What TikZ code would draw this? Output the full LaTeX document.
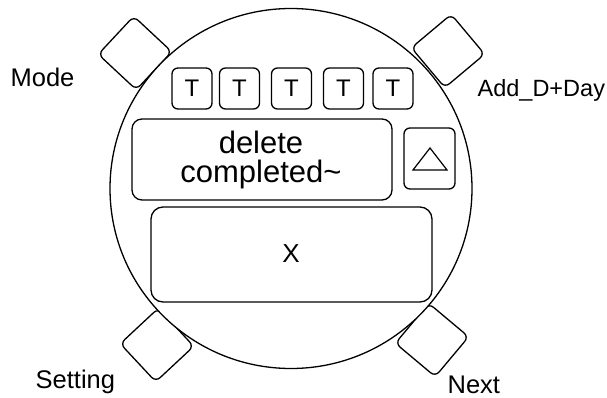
\documentclass[tikz,border=0pt]{standalone}
\usepackage{fontspec}
\setmainfont{Liberation Sans}
\begin{document}
\begin{tikzpicture}[x=1pt,y=-1pt,
  line width=1.3pt,
  knob/.style={draw, rectangle, rounded corners=6pt, minimum width=52pt, minimum height=52pt, inner sep=0pt},
  tkey/.style={draw, rectangle, rounded corners=6pt, minimum width=40pt, minimum height=41pt, inner sep=0pt, font=\fontsize{24}{28}\selectfont},
  panel/.style={draw, rounded corners=11pt},
  lbl/.style={anchor=base west, inner sep=0pt, font=\fontsize{25.5}{28}\selectfont}
]
\useasboundingbox (0,0) rectangle (607,398);

% side buttons, partly hidden behind the watch face
\node[knob, rotate=47] (bmode) at (135,53) {};
\node[knob, rotate=-50] (badd) at (448,51) {};
\node[knob, rotate=-47] (bset) at (157,345) {};
\node[knob, rotate=50] (bnext) at (432,340) {};

% watch face
\draw[fill=white] (291,188.5) ellipse [x radius=181, y radius=180];

% button labels
\node[lbl] (lmode) at (10,87) {Mode};
\node[lbl, font=\fontsize{23.5}{28}\selectfont] (ladd) at (477,97) {Add\_D+Day};
\node[lbl] (lset) at (35,388) {Setting};
\node[lbl] (lnext) at (447,393) {Next};

% row of T keys
\node[tkey] (t1) at (192,88.5) {T};
\node[tkey] (t2) at (239.5,88.5) {T};
\node[tkey] (t3) at (291.5,88.5) {T};
\node[tkey] (t4) at (343.5,88.5) {T};
\node[tkey] (t5) at (393,88.5) {T};

% message display
\draw[panel, rounded corners=10pt] (132,119) rectangle (392,200);
\node[align=center, font=\fontsize{31}{29}\selectfont, inner sep=0pt] (msg) at (261,160) {delete\\completed\textasciitilde};

% up arrow key
\draw[rounded corners=6pt] (404,128) rectangle (455,189);
\draw[line width=1.2pt] (430,148) -- (413,170) -- (447,170) -- cycle;

% value display
\draw[panel, rounded corners=12pt] (151,207) rectangle (432,302);
\node[font=\fontsize{26}{30}\selectfont, inner sep=0pt] (val) at (291,254) {X};
\end{tikzpicture}
\end{document}
